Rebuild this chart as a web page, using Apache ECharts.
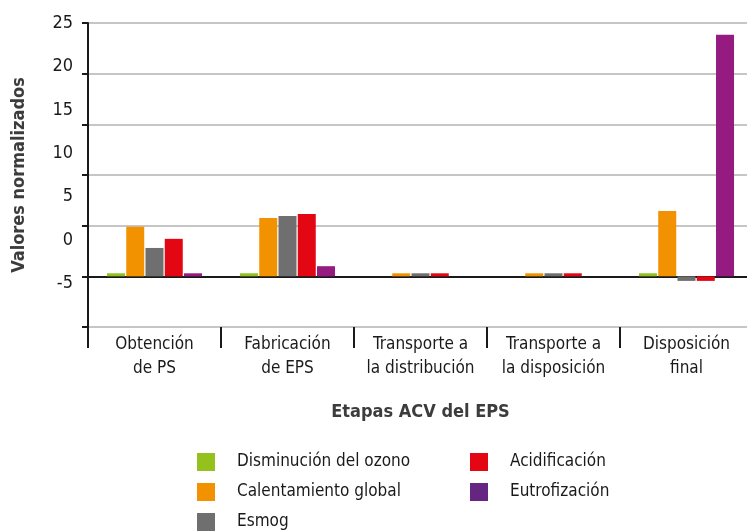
<!DOCTYPE html>
<html><head><meta charset="utf-8">
<script src="https://cdn.jsdelivr.net/npm/echarts@6/dist/echarts.min.js"></script>
<style>html,body{margin:0;padding:0;background:#fff}#c{width:747px;height:532px}</style>
</head><body><div id="c"></div>
<script>
var categories = ['Obtención\nde PS', 'Fabricación\nde EPS', 'Transporte a\nla distribución', 'Transporte a\nla disposición', 'Disposición\nfinal'];
var ozono = [0.3, 0.3, 0, 0, 0.3];
var calentamiento = [4.9, 5.75, 0.3, 0.3, 6.45];
var esmog = [2.8, 5.95, 0.3, 0.3, -0.45];
var acidificacion = [3.7, 6.15, 0.3, 0.3, -0.45];
var eutrofizacion = [0.3, 1.0, 0, 0, 23.85];
var yTickLabels = ['-5', '0', '5', '10', '15', '20', '25'];
var seriesNames = ['Disminución del ozono', 'Calentamiento global', 'Esmog', 'Acidificación', 'Eutrofización'];

var FONT = "'Liberation Sans Narrow','DejaVu Sans Condensed','Roboto',sans-serif";
var colors = ['#8dc21f', '#f39200', '#6f6f6f', '#e30613', '#951b81'];
var legendColors = ['#95c11f', '#f39200', '#6f6f6f', '#e30613', '#662483'];
var datas = [ozono, calentamiento, esmog, acidificacion, eutrofizacion];

var chart = echarts.init(document.getElementById('c'));
var series = datas.map(function (d, i) {
  return {
    name: seriesNames[i], type: 'bar', data: d, barWidth: 18, barGap: '7%',
    itemStyle: { color: colors[i] }, xAxisIndex: 0, yAxisIndex: 0
  };
});
function legendItems(idx) {
  return idx.map(function (i) { return { name: seriesNames[i], itemStyle: { color: legendColors[i] } }; });
}
var legendCommon = {
  orient: 'vertical', icon: 'rect', itemWidth: 18, itemHeight: 18, itemGap: 12, padding: 0, height: 90,
  textStyle: { fontFamily: FONT, fontSize: 17, color: '#1a1a1a', padding: [0, 0, 0, 17] }
};
chart.setOption({
  animation: false,
  grid: { left: 88, right: -6, top: 23, bottom: 205, outerBoundsMode: 'none' },
  legend: [
    Object.assign({ left: 197, top: 453, data: legendItems([0, 1, 2]) }, legendCommon),
    Object.assign({ left: 470, top: 453, data: legendItems([3, 4]) }, legendCommon)
  ],
  xAxis: [
    { type: 'category', data: categories, axisLine: { onZero: true, lineStyle: { color: '#1a1a1a', width: 2 } },
      axisTick: { show: false }, axisLabel: { show: false } },
    { type: 'category', data: categories, position: 'bottom', axisLine: { show: false, onZero: false },
      axisTick: { show: true, interval: 0, length: 21, lineStyle: { color: '#1a1a1a', width: 2 } },
      axisLabel: { interval: 0, fontFamily: FONT, fontSize: 17, color: '#1a1a1a', lineHeight: 24, margin: 6 },
      name: 'Etapas ACV del EPS', nameLocation: 'middle', nameGap: 76,
      nameTextStyle: { fontFamily: FONT, fontSize: 18, fontWeight: 'bold', color: '#3c3c3c' } }
  ],
  yAxis: [
    { type: 'value', min: -5, max: 25, interval: 5,
      axisLine: { show: true, lineStyle: { color: '#1a1a1a', width: 2 } },
      axisTick: { show: true, length: 6, lineStyle: { color: '#1a1a1a', width: 2 } },
      axisLabel: { show: false },
      splitLine: { show: true, lineStyle: { color: '#b3b3b3', width: 1.5 } },
      name: 'Valores normalizados', nameLocation: 'middle', nameGap: 60,
      nameTextStyle: { fontFamily: FONT, fontSize: 18, fontWeight: 'bold', color: '#3c3c3c' } },
    { type: 'value', position: 'left', min: -10, max: 25, interval: 5,
      axisLine: { show: false }, axisTick: { show: false }, splitLine: { show: false },
      axisLabel: { margin: 15, fontFamily: FONT, fontSize: 18, color: '#1a1a1a',
        formatter: function (v) { var s = String(v); return yTickLabels.indexOf(s) >= 0 ? s : ''; } } }
  ],
  series: series
});
</script></body></html>
